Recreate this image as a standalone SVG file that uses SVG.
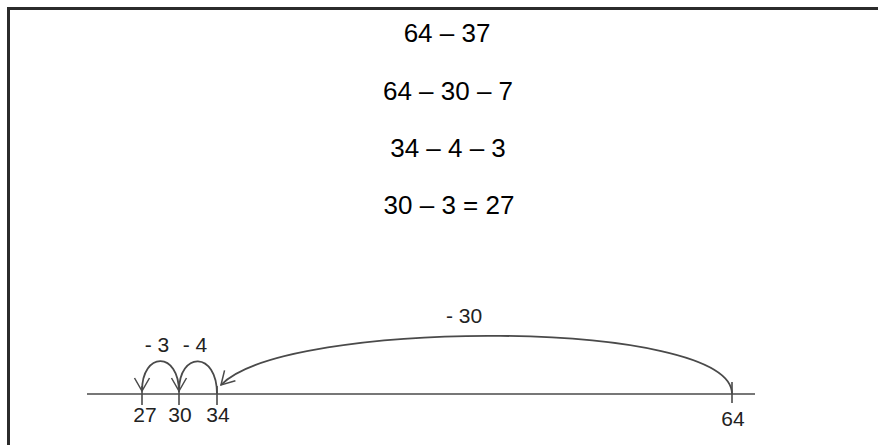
<svg xmlns="http://www.w3.org/2000/svg" width="878" height="445" viewBox="0 0 878 445">
<style>
  text { font-family: "Liberation Sans", Arial, sans-serif; fill: #000; }
  .eq { font-size: 26px; text-anchor: middle; }
  .num { font-size: 21px; text-anchor: middle; fill: #222; }
  .lbl { font-size: 21px; text-anchor: middle; fill: #222; }
  .axis { stroke: #4a4a4a; stroke-width: 1.6; fill: none; }
  .hop { stroke: #4a4a4a; stroke-width: 1.8; fill: none; marker-end: url(#arr); }
</style>
<defs>
  <marker id="arr" markerUnits="userSpaceOnUse" viewBox="-14 -9 16 18" markerWidth="16" markerHeight="18" refX="0" refY="0" orient="auto" overflow="visible">
    <path d="M -13 -7.5 L 0 0 L -13 7.5" fill="none" stroke="#4a4a4a" stroke-width="1.5"/>
  </marker>
</defs>
<rect width="878" height="445" fill="#fff"/>
<path d="M 8.5 445 L 8.5 8.5 L 878 8.5" fill="none" stroke="#2b2b2b" stroke-width="3"/>

<g id="equations">
  <text class="eq" x="447" y="42">64 – 37</text>
  <text class="eq" x="448" y="100">64 – 30 – 7</text>
  <text class="eq" x="448" y="157">34 – 4 – 3</text>
  <text class="eq" x="449" y="214">30 – 3 = 27</text>
</g>

<g id="number-line">
  <line class="axis" x1="87" y1="394" x2="755" y2="394"/>
  <line class="axis" x1="142" y1="386" x2="142" y2="405"/>
  <line class="axis" x1="179" y1="386" x2="179" y2="405"/>
  <line class="axis" x1="217" y1="386" x2="217" y2="405"/>
  <line class="axis" x1="732" y1="382" x2="732" y2="403"/>
</g>

<g id="tick-27"><text class="num" x="145" y="422">27</text></g>
<g id="tick-30"><text class="num" x="180" y="422">30</text></g>
<g id="tick-34"><text class="num" x="218" y="422">34</text></g>
<g id="tick-64"><text class="num" x="733" y="426">64</text></g>

<g id="connectors">
  <path class="hop" d="M 732 394 C 732 318, 285 318, 221 385"/>
  <path class="hop" d="M 217 394 C 217 351, 179 351, 179 391"/>
  <path class="hop" d="M 179 392 C 179 351, 142 351, 142 391"/>
</g>

<g id="labels">
  <text class="lbl" x="464" y="323">- 30</text>
  <text class="lbl" x="157" y="352">- 3</text>
  <text class="lbl" x="195" y="352">- 4</text>
</g>
</svg>
